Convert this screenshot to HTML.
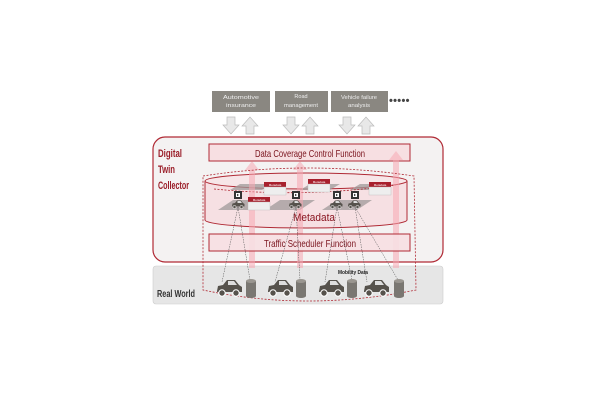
<!DOCTYPE html>
<html><head><meta charset="utf-8"><style>
html,body{margin:0;padding:0;background:#fff;}
svg{display:block;font-family:"Liberation Sans",sans-serif;}
</style></head><body>
<svg width="600" height="400" viewBox="0 0 600 400">
<defs>
<g id="car">
<path d="M0,12 L1,7 L6,6 L10,1 L18,1 L22,6 L25,8 L25,13 L0,13 Z" fill="#56524c"/>
<circle cx="5" cy="14" r="3.2" fill="#56524c" stroke="#fff" stroke-width="1"/>
<circle cx="19" cy="14" r="3.2" fill="#56524c" stroke="#fff" stroke-width="1"/>
<path d="M11,2 L17,2 L20,6 L11,6 Z" fill="#ddd"/>
</g>
<g id="db">
<rect x="0" y="2" width="10" height="15" fill="#7a7772"/>
<ellipse cx="5" cy="2" rx="5" ry="2" fill="#9a9690"/>
<ellipse cx="5" cy="17" rx="5" ry="2" fill="#7a7772"/>
</g>
<g id="meta">
<rect x="0" y="0" width="22" height="5" fill="#a8202d"/>
<text x="11" y="4" font-size="3" fill="#fff" text-anchor="middle">Metadata</text>
<rect x="0" y="5" width="22" height="8" fill="#eee" stroke="#bbb" stroke-width="0.4"/>
</g>
<g id="node">
<rect x="0" y="0" width="8" height="8" fill="#333"/>
<rect x="2" y="2" width="4" height="4" fill="#fff"/>
<path d="M3,2.8 L5,4 L3,5.2Z" fill="#333"/>
</g>
</defs>

<rect x="212" y="91" width="58" height="21" fill="#8a8781"/>
<text x="241" y="99" font-size="5.5" fill="#eee" text-anchor="middle" textLength="36" lengthAdjust="spacingAndGlyphs">Automotive</text>
<text x="241" y="107" font-size="5.5" fill="#eee" text-anchor="middle" textLength="30" lengthAdjust="spacingAndGlyphs">insurance</text>
<rect x="275" y="91" width="53" height="21" fill="#8a8781"/>
<text x="301" y="98" font-size="5.5" fill="#eee" text-anchor="middle">Road</text>
<text x="301" y="107" font-size="5.5" fill="#eee" text-anchor="middle" textLength="34" lengthAdjust="spacingAndGlyphs">management</text>
<rect x="331" y="91" width="57" height="21" fill="#8a8781"/>
<text x="359" y="99" font-size="5.5" fill="#eee" text-anchor="middle" textLength="36" lengthAdjust="spacingAndGlyphs">Vehicle failure</text>
<text x="359" y="107" font-size="5.5" fill="#eee" text-anchor="middle" textLength="22" lengthAdjust="spacingAndGlyphs">analysis</text>
<text x="389" y="104" font-size="11" fill="#444" font-weight="bold" letter-spacing="0.3">•••••</text>

<g fill="#e8e8e8" stroke="#bbb" stroke-width="0.7">
<path d="M227,117 h8 v8 h4 l-8,9 l-8,-9 h4z"/>
<path d="M246,134 h8 v-8 h4 l-8,-9 l-8,9 h4z"/>
<path d="M287,117 h8 v8 h4 l-8,9 l-8,-9 h4z"/>
<path d="M306,134 h8 v-8 h4 l-8,-9 l-8,9 h4z"/>
<path d="M343,117 h8 v8 h4 l-8,9 l-8,-9 h4z"/>
<path d="M362,134 h8 v-8 h4 l-8,-9 l-8,9 h4z"/>
</g>

<rect x="153" y="137" width="290" height="125" rx="12" fill="#f4f2f2" stroke="#b02a35" stroke-width="1.2"/>
<text x="158" y="157" font-size="11" fill="#9a1d28" font-weight="bold" textLength="24" lengthAdjust="spacingAndGlyphs">Digital</text>
<text x="158" y="173" font-size="11" fill="#9a1d28" font-weight="bold" textLength="17" lengthAdjust="spacingAndGlyphs">Twin</text>
<text x="158" y="189" font-size="11" fill="#9a1d28" font-weight="bold" textLength="31" lengthAdjust="spacingAndGlyphs">Collector</text>

<rect x="153" y="266" width="290" height="38" rx="3" fill="#e6e6e6" stroke="#ccc" stroke-width="0.6"/>
<text x="157" y="297" font-size="10" fill="#333" font-weight="bold" textLength="38" lengthAdjust="spacingAndGlyphs">Real World</text>

<rect x="209" y="144" width="201" height="17" fill="#f7dfe2" stroke="#b02a35" stroke-width="1"/>
<text x="310" y="157" font-size="10.5" fill="#7a121c" text-anchor="middle" textLength="110" lengthAdjust="spacingAndGlyphs">Data Coverage Control Function</text>

<path d="M205,181 L205,220 A101,8 0 0 0 407,220 L407,181" fill="#f6e0e3" stroke="#b02a35" stroke-width="1"/>
<ellipse cx="306" cy="181" rx="101" ry="8" fill="#f7e6e8" stroke="#b02a35" stroke-width="1"/>

<g fill="#a09a9a" opacity="0.75">
<path d="M218,210 L233,200 L268,200 L253,210Z"/>
<path d="M265,210 L280,200 L315,200 L300,210Z"/>
<path d="M322,210 L337,200 L372,200 L357,210Z"/>
<path d="M230,190 L240,184 L272,184 L262,190Z"/>
<path d="M300,190 L310,184 L340,184 L330,190Z"/>
<path d="M350,190 L360,184 L390,184 L380,190Z"/>
</g>
<path d="M214,189 Q306,198 396,185" fill="none" stroke="#b02a35" stroke-width="0.8" stroke-dasharray="2,1.5"/>

<g fill="#f7a8b3" opacity="0.55">
<path d="M249,268 V170 h-4 l7,-9 l7,9 h-4 V268z"/>
<path d="M297,268 V170 h-4 l7,-9 l7,9 h-4 V268z"/>
<path d="M393,268 V160 h-4 l7,-9 l7,9 h-4 V268z"/>
</g>

<use href="#meta" x="264" y="182"/>
<use href="#meta" x="248" y="197"/>
<use href="#meta" x="308" y="179"/>
<use href="#meta" x="369" y="182"/>
<use href="#node" x="234" y="191"/>
<use href="#node" x="292" y="191"/>
<use href="#node" x="333" y="191"/>
<use href="#node" x="351" y="191"/>
<g transform="scale(0.5)"><use href="#car" x="464" y="400"/><use href="#car" x="578" y="400"/><use href="#car" x="660" y="400"/><use href="#car" x="696" y="400"/></g>
<text x="314" y="221" font-size="11" fill="#8a1520" text-anchor="middle" textLength="42" lengthAdjust="spacingAndGlyphs">Metadata</text>

<rect x="209" y="234" width="201" height="17" fill="#f7dfe2" fill-opacity="0.9" stroke="#b02a35" stroke-width="1"/>
<text x="310" y="247" font-size="10.5" fill="#7a121c" text-anchor="middle" textLength="92" lengthAdjust="spacingAndGlyphs">Traffic Scheduler Function</text>

<path d="M203,176 Q306,160 414,176 L416,290 Q306,312 203,290 Z" fill="none" stroke="#b02a35" stroke-width="0.8" stroke-dasharray="2,1.5"/>

<g stroke="#555" stroke-width="0.5" stroke-dasharray="1.5,1">
<line x1="238" y1="207" x2="222" y2="282"/>
<line x1="238" y1="207" x2="250" y2="280"/>
<line x1="296" y1="207" x2="275" y2="282"/>
<line x1="296" y1="207" x2="300" y2="280"/>
<line x1="337" y1="207" x2="325" y2="282"/>
<line x1="337" y1="207" x2="352" y2="280"/>
<line x1="355" y1="207" x2="367" y2="282"/>
<line x1="355" y1="207" x2="398" y2="280"/>
</g>
<text x="338" y="274" font-size="5.5" fill="#222" font-weight="bold" textLength="30" lengthAdjust="spacingAndGlyphs">Mobility Data</text>

<use href="#car" x="217" y="279"/>
<use href="#db" x="246" y="279"/>
<use href="#car" x="268" y="279"/>
<use href="#db" x="296" y="279"/>
<use href="#car" x="319" y="279"/>
<use href="#db" x="347" y="279"/>
<use href="#car" x="364" y="279"/>
<use href="#db" x="394" y="279"/>
</svg>
</body></html>
